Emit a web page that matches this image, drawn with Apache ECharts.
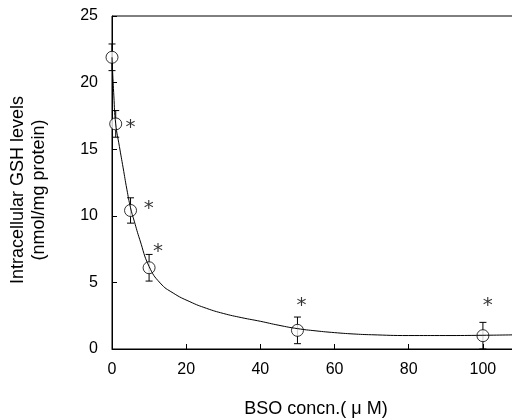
<!DOCTYPE html>
<html>
<head>
<meta charset="utf-8">
<title>BSO GSH</title>
<script src="https://cdn.jsdelivr.net/npm/echarts@6/dist/echarts.min.js"></script>
<style>
  * { margin: 0; padding: 0; }
  body { background: #fff; }
  #main { width: 512px; height: 418px; }
</style>
</head>
<body>
<div id="main"></div>
<script>
  // measured points (mean +/- SD)
  let bsoConc = [0, 1, 5, 10, 50, 100];
  let gshMean = [21.9, 16.9, 10.4, 6.1, 1.4, 1.0];
  let gshSd = [1.0, 1.0, 0.95, 1.0, 1.0, 1.0];

  // fitted curve
  let fitX = [0, 0.5, 1, 2, 3, 4, 5, 6, 7.5, 10, 13, 16.5, 21, 25.5, 30, 35, 40, 45, 50, 55, 60, 65, 70, 80, 90, 100, 110];
  let fitY = [21.9, 19.0, 16.9, 15.2, 13.6, 12.0, 10.6, 9.6, 8.2, 6.2, 4.95, 4.2, 3.55, 3.05, 2.67, 2.35, 2.08, 1.78, 1.53, 1.36, 1.23, 1.13, 1.07, 1.01, 1.01, 1.03, 1.07];

  // significance marks
  let starX = [5.0, 9.9, 12.4, 51.1, 101.3];
  let starY = [17.0, 10.9, 7.7, 3.6, 3.6];

  let xTicks = [0, 20, 40, 60, 80, 100];
  let yTicks = [0, 5, 10, 15, 20, 25];

  let myChart = echarts.init(document.getElementById('main'));

  let errData = [];
  let pointData = [];
  bsoConc.forEach((x, i) => {
    errData.push([x, gshMean[i] - gshSd[i], gshMean[i] + gshSd[i]]);
    pointData.push([x, gshMean[i]]);
  });
  let fitData = fitX.map((x, i) => [x, fitY[i]]);
  let starData = starX.map((x, i) => [x, starY[i]]);

  let option = {
    animation: false,
    backgroundColor: '#fff',
    textStyle: { fontFamily: 'Liberation Sans' },
    grid: {
      left: 112,
      right: -8,
      top: 16,
      bottom: 69,
      containLabel: false,
      outerBoundsMode: 'none',
      show: true,
      borderColor: '#000',
      borderWidth: 1
    },
    xAxis: {
      type: 'value',
      min: 0,
      max: 110,
      interval: 20,
      name: 'BSO concn.( μ M)',
      nameLocation: 'middle',
      nameGap: 51,
      nameTextStyle: { color: '#000', fontSize: 18, fontFamily: 'Liberation Sans' },
      axisLine: { lineStyle: { color: '#000', width: 1 } },
      axisTick: { inside: true, length: 5, lineStyle: { color: '#000' } },
      axisLabel: {
        color: '#000', fontSize: 16, margin: 13, showMaxLabel: false,
        formatter: v => xTicks.indexOf(v) >= 0 ? String(v) : ''
      },
      splitLine: { show: false }
    },
    yAxis: {
      type: 'value',
      min: 0,
      max: 25,
      interval: 5,
      axisLine: { lineStyle: { color: '#000', width: 1 } },
      axisTick: { inside: true, length: 5, lineStyle: { color: '#000' } },
      axisLabel: {
        color: '#000', fontSize: 16, margin: 14,
        formatter: v => yTicks.indexOf(v) >= 0 ? String(v) : ''
      },
      splitLine: { show: false }
    },
    graphic: [{
      type: 'text',
      x: 28.5,
      y: 190,
      rotation: Math.PI / 2,
      style: {
        text: 'Intracellular GSH levels\n(nmol/mg protein)',
        fill: '#000',
        font: '18px "Liberation Sans"',
        lineHeight: 21,
        align: 'center',
        verticalAlign: 'middle'
      }
    }],
    series: [
      {
        type: 'custom',
        z: 1,
        data: errData,
        renderItem: function (params, api) {
          let x = api.value(0);
          let top = api.coord([x, api.value(2)]);
          let bot = api.coord([x, api.value(1)]);
          let w = 3.5;
          let st = { stroke: '#000', lineWidth: 1 };
          return {
            type: 'group',
            children: [
              { type: 'line', shape: { x1: top[0], y1: top[1], x2: bot[0], y2: bot[1] }, style: st },
              { type: 'line', shape: { x1: top[0] - w, y1: top[1], x2: top[0] + w, y2: top[1] }, style: st },
              { type: 'line', shape: { x1: bot[0] - w, y1: bot[1], x2: bot[0] + w, y2: bot[1] }, style: st }
            ]
          };
        }
      },
      {
        type: 'scatter',
        z: 2,
        data: pointData,
        symbol: 'circle',
        symbolSize: 12,
        itemStyle: { color: '#fff', borderColor: '#000', borderWidth: 1 }
      },
      {
        type: 'line',
        z: 3,
        data: fitData,
        smooth: 0.5,
        symbol: 'none',
        lineStyle: { color: '#000', width: 1 }
      },
      {
        type: 'scatter',
        z: 4,
        data: starData,
        symbolSize: 0,
        label: {
          show: true,
          position: 'inside',
          formatter: '*',
          color: '#000',
          fontSize: 20,
          fontFamily: 'DejaVu Sans',
          offset: [0, 5]
        }
      }
    ]
  };
  myChart.setOption(option);
</script>
</body>
</html>
